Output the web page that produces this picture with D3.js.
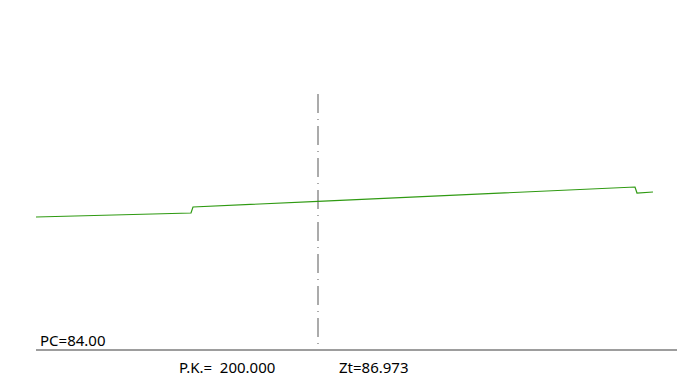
<!DOCTYPE html>
<html>
<head>
<meta charset="utf-8">
<script src="https://cdn.jsdelivr.net/npm/d3@7/dist/d3.min.js"></script>
<style>
html,body{margin:0;padding:0;background:#fff;}
svg{display:block;}
text{font-family:"Noto Sans",sans-serif;font-size:15px;fill:#000;}
</style>
</head>
<body>
<svg id="chart" width="700" height="383"></svg>
<script>
// Terrain profile (offset from axis in m, elevation in m)
const terrainOffset = [-5.64, -2.54, -2.50, 0.00, 6.34, 6.38, 6.70];
const terrainElev   = [86.66, 86.74, 86.86, 86.973, 87.26, 87.14, 87.16];
// Datum (comparison plane) and axis
const datumElev = 84.00;
const datumExtent = [-5.64, 7.18];
const axisTopElev = 89.12;
const stationLabel = "P.K.=  200.000";
const groundLabel = "Zt=86.973";
const datumLabel = "PC=84.00";

const svg = d3.select("#chart");
const x = d3.scaleLinear().domain([0, 1]).range([318, 368]);       // 50 px per metre
const y = d3.scaleLinear().domain([84, 85]).range([350, 300]);     // 50 px per metre

// datum line
svg.append("line")
  .attr("x1", x(datumExtent[0])).attr("x2", x(datumExtent[1]))
  .attr("y1", y(datumElev)).attr("y2", y(datumElev))
  .attr("stroke", "#3c3c3c").attr("stroke-width", 1.2);

// centre line
svg.append("line")
  .attr("x1", x(0)).attr("x2", x(0))
  .attr("y1", y(axisTopElev)).attr("y2", y(datumElev))
  .attr("stroke", "#ababab").attr("stroke-width", 2)
  .attr("stroke-dasharray", "19,6,1,6");

// terrain
const pts = terrainOffset.map((d, i) => [d, terrainElev[i]]);
svg.append("path")
  .attr("d", d3.line().x(d => x(d[0])).y(d => y(d[1]))(pts))
  .attr("fill", "none").attr("stroke", "#2f9a12").attr("stroke-width", 1.2);

// labels
svg.append("text").attr("x", x(datumExtent[0]) + 4).attr("y", y(datumElev) - 4).text(datumLabel);
svg.append("text").attr("x", 179).attr("y", 373).attr("xml:space", "preserve").style("white-space", "pre").text(stationLabel);
svg.append("text").attr("x", 339).attr("y", 373).text(groundLabel);
</script>
</body>
</html>
